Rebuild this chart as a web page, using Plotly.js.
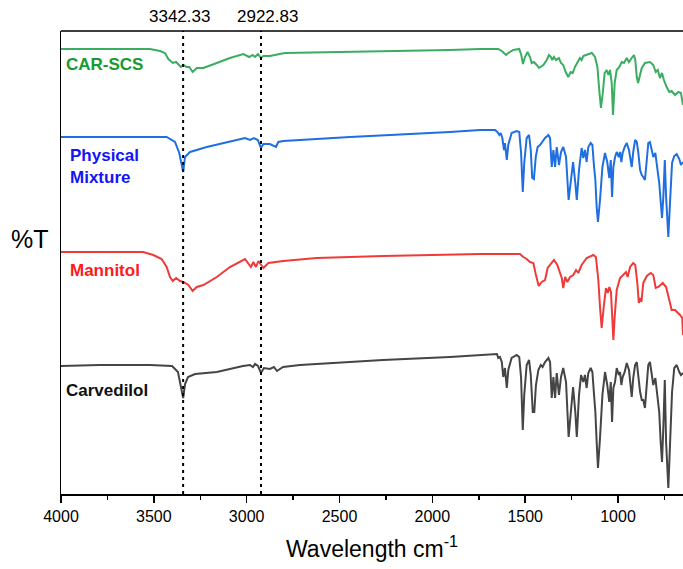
<!DOCTYPE html>
<html>
<head>
<meta charset="utf-8">
<script src="https://cdn.plot.ly/plotly-3.0.1.min.js"></script>
<style>html,body{margin:0;padding:0;background:#fff;}#chart{width:683px;height:569px;}</style>
</head>
<body>
<div id="chart"></div>
<script>
// Wavenumbers (cm-1) and stacked %T (arbitrary, offset) for each spectrum
const carWn = [4000,3790,3521,3402,3370,3354,3342,3332,3316,3278,3161,3020,2982,2966,2955,2939,2923,2907,2875,2853,2837,2804,2713,2266,1905,1652,
1645,1636,1626,1618,1609,1599,1591,1573,1546,1532,
1522,1513,1505,1492,1479,1470,1459,1451,1442,1429,
1416,1406,1393,1375,1366,1357,1348,1339,1330,1318,
1307,1295,1280,1266,1255,1242,1230,1222,1210,1199,
1187,1178,1169,1160,1147,1138,1129,1122,1115,1108,
1097,1084,1070,1058,1047,1039,1032,1025,1016,1007,
996,989,982,975,964,953,941,926,918,908,
899,891,881,872,864,855,845,837,828,819,
810,799,788,778,770,763,756,748,741,734,
729,720,709,697,684,670,661,650];
const carT = [128,129,129,128,122,109,96,110,117,120,122,128,129,127,130,128,121,126,125,127,123,127,129,134,137,140,
136,137,132,117,126,106,124,136,139,137,
116,64,99,129,134,119,82,82,109,124,
129,127,132,136,132,96,117,96,121,99,
117,126,112,57,82,107,82,57,99,119,
112,119,106,121,126,122,99,82,52,26,
56,99,122,109,92,112,72,106,112,126,
119,122,109,117,122,131,124,97,116,129,
132,119,102,94,94,86,109,129,132,122,
109,116,99,82,51,32,66,114,52,22,
6,49,102,126,129,122,119,121];

const pmWn = [4000,3431,3386,3363,3342,3332,3305,3215,3054,3009,
2982,2961,2940,2923,2910,2875,2842,2830,2803,2443,
1905,1743,1662,1650,1639,1632,1623,1614,1609,1599,
1591,1573,1546,1532,1522,1513,1505,1492,1479,1470,
1462,1453,1443,1433,1420,1408,1393,1375,1366,1357,
1348,1339,1330,1318,1307,1295,1280,1266,1255,1242,
1230,1222,1210,1196,1187,1178,1169,1160,1147,1138,
1129,1122,1115,1108,1097,1084,1070,1058,1047,1039,
1032,1025,1016,1007,996,989,982,975,964,953,
941,926,918,908,899,891,881,872,864,855,
845,837,828,819,810,799,788,778,770,763,
756,748,741,734,729,720,709,697,684,670,
661,650];
const pmT = [357,357,352,341,322,337,342,347,354,356,
354,356,354,346,350,350,347,352,353,357,
362,364,364,362,359,361,356,344,351,334,
349,361,363,362,341,302,331,356,359,344,
316,315,337,347,349,352,356,359,356,327,
344,327,347,329,342,347,337,294,311,332,
311,294,324,346,336,344,332,347,351,349,
327,314,287,272,294,327,341,332,316,334,
297,327,337,342,337,342,332,341,347,351,
344,327,342,354,352,342,324,319,317,314,
334,351,352,344,337,341,327,311,292,276,
297,334,297,271,257,291,331,338,340,335,
329,332];

const manWn = [4000,3557,3503,3458,3431,3413,3398,3380,3359,3341,
3314,3291,3269,3233,3161,3090,3009,2991,2977,2964,
2950,2937,2923,2910,2883,2803,2623,2264,1743,1653,
1528,1510,1492,1474,1456,1442,1427,1411,1393,1379,
1363,1345,1327,1312,1303,1295,1285,1273,1258,1241,
1226,1214,1196,1169,1133,1119,1106,1097,1088,1077,
1065,1055,1047,1038,1031,1025,1018,1007,989,971,
957,948,935,918,907,896,888,881,874,864,
845,824,810,797,783,759,741,724,711,693,
681,666,654,650];
const manT = [242,242,239,235,227,217,213,216,213,212,
209,203,207,209,217,227,235,231,227,232,
227,233,229,226,231,233,236,238,240,240,
240,237,235,232,231,219,208,212,214,226,
230,234,229,222,216,206,217,212,217,219,
224,221,229,236,239,237,214,187,166,187,
206,201,207,202,174,154,177,204,216,219,
222,217,227,231,229,211,191,196,192,211,
218,221,219,206,207,211,207,194,184,184,
182,179,176,159];

const scsWn = [4000,3521,3467,3440,3422,3398,3380,3355,3341,3323,
3309,3291,3269,3233,3161,3090,3018,2986,2968,2955,
2939,2923,2910,2875,2795,2443,1905,1743,1645,1626,
1614,1603,1591,1564,1532,1521,1512,1501,1487,1474,
1465,1453,1438,1426,1402,1384,1372,1361,1354,1345,
1334,1319,1307,1295,1282,1268,1255,1244,1232,1217,
1205,1196,1187,1172,1160,1141,1124,1111,1101,1092,
1082,1072,1061,1052,1043,1034,1027,1018,1007,993,
980,968,953,941,926,914,907,899,892,885,
872,855,828,810,797,786,774,763,753,738,
724,711,693,675,661,650];
const scsT = [445,445,443,441,435,431,432,427,429,427,
427,422,426,426,431,436,440,437,439,437,
440,436,438,438,441,442,444,445,445,443,
441,439,441,444,445,439,430,437,442,437,
431,432,429,426,429,434,439,437,434,437,
434,436,431,429,422,417,422,421,427,432,
436,434,438,439,440,441,437,427,404,386,
401,421,424,419,424,411,379,411,424,427,
432,431,436,432,436,439,434,417,411,417,
426,431,432,429,422,424,416,421,414,407,
402,403,399,402,401,389];

const seriesNames = ['Carvedilol','Mannitol','Physical<br>Mixture','CAR-SCS'];
const markedPeaks = [3342.33, 2922.83];
const peakLabels = ['3342.33','2922.83'];

const lineColors = ['#454545','#ef3a3a','#1f6fe0','#3aad60'];
const textColors = ['#111111','#ff1a1a','#1414f5','#179a2e'];
const labelPos = [[3985,104],[3960,224],[3960,328],[3985,430]];
const peakShift = [-4, 6];

const F = 'Liberation Sans, Arial, sans-serif';
const xs = [carWn, manWn, pmWn, scsWn];
const ys = [carT, manT, pmT, scsT];

const data = xs.map((x,i)=>({
  x: x, y: ys[i], type:'scatter', mode:'lines',
  line:{color: lineColors[i], width:2},
  name: seriesNames[i].replace('<br>',' '), hoverinfo:'skip'
}));

const annotations = seriesNames.map((n,i)=>({
  x: labelPos[i][0], y: labelPos[i][1], xref:'x', yref:'y',
  text:'<b>'+n+'</b>', showarrow:false, xanchor:'left', yanchor:'middle', align:'left',
  font:{family:F, size:17, color:textColors[i]}
}));
markedPeaks.forEach((p,i)=>annotations.push({
  x:p, y:1, xref:'x', yref:'paper', yanchor:'bottom', xanchor:'center', yshift:3, xshift:peakShift[i],
  text: peakLabels[i], showarrow:false, font:{family:F, size:17, color:'#000'}
}));
annotations.push({x:-0.05, y:0.55, xref:'paper', yref:'paper', text:'%T', showarrow:false,
  font:{family:F, size:25, color:'#000'}, xanchor:'center', yanchor:'middle'});

const shapes = markedPeaks.map(p=>({
  type:'line', xref:'x', yref:'paper', x0:p, x1:p, y0:0, y1:1,
  line:{color:'#000', width:2, dash:'3px,4px'}
}));
shapes.push({type:'line', xref:'paper', yref:'paper', x0:0, x1:1, y0:1, y1:1, line:{color:'#000', width:1.5}});

const layout = {
  width:683, height:569,
  margin:{l:61, r:0, t:31, b:75, pad:0},
  paper_bgcolor:'#fff', plot_bgcolor:'#fff',
  showlegend:false,
  font:{family:F, color:'#000'},
  xaxis:{
    range:[4000,650], autorange:false,
    showline:true, linecolor:'#000', linewidth:1.5, mirror:false,
    ticks:'outside', ticklen:7, tickwidth:1.5, tickcolor:'#000',
    tick0:0, dtick:500, showgrid:false, zeroline:false,
    tickfont:{family:F, size:16, color:'#000'},
    minor:{ticks:'outside', ticklen:4, tickwidth:1.5, tickcolor:'#000', tick0:0, dtick:250, showgrid:false},
    title:{text:'Wavelength cm<sup>-1</sup>', font:{family:F, size:23, color:'#000'}, standoff:17}
  },
  yaxis:{
    range:[0,463], autorange:false, showline:true, linecolor:'#000', linewidth:1.5,
    showticklabels:false, ticks:'', showgrid:false, zeroline:false
  },
  shapes: shapes,
  annotations: annotations
};

Plotly.newPlot('chart', data, layout, {displayModeBar:false, staticPlot:true});
</script>
</body>
</html>
